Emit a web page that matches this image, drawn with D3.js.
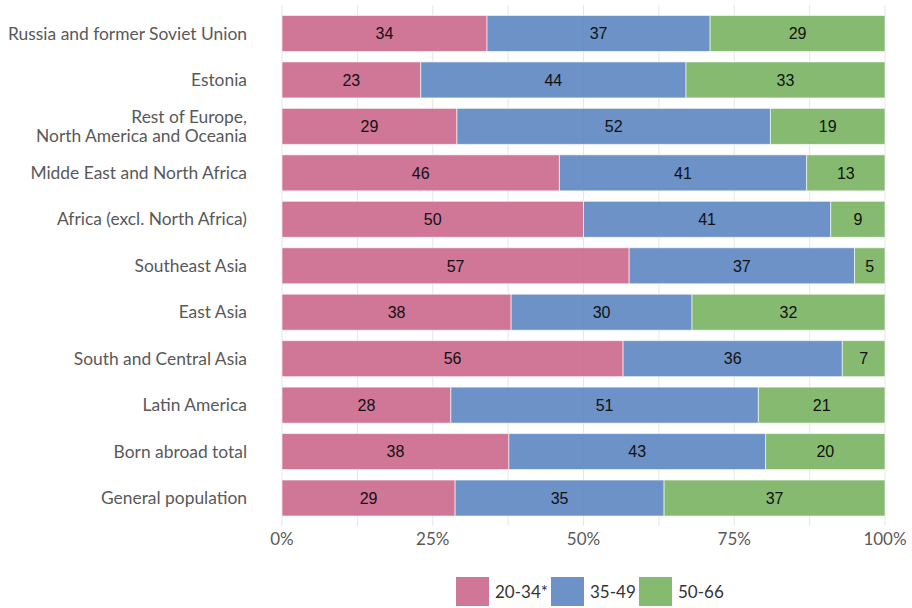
<!DOCTYPE html>
<html>
<head>
<meta charset="utf-8">
<script src="https://cdn.jsdelivr.net/npm/d3@7"></script>
<style>
  html, body { margin: 0; padding: 0; background: #fff; }
  svg { display: block; }
</style>
</head>
<body>
<svg id="chart" width="912" height="608"></svg>
<script>
// Age structure by region of birth (values in percent)
const categories = [
  "Russia and former Soviet Union",
  "Estonia",
  "Rest of Europe,\nNorth America and Oceania",
  "Midde East and North Africa",
  "Africa (excl. North Africa)",
  "Southeast Asia",
  "East Asia",
  "South and Central Asia",
  "Latin America",
  "Born abroad total",
  "General population"
];
const seriesNames = ["20-34*", "35-49", "50-66"];
const age20_34 = [34, 23, 29, 46, 50, 57, 38, 56, 28, 38, 29];
const age35_49 = [37, 44, 52, 41, 41, 37, 30, 36, 51, 43, 35];
const age50_66 = [29, 33, 19, 13, 9, 5, 32, 7, 21, 20, 37];
const seriesColors = ["#cc6a8e", "#5f89c2", "#7bb464"];
const tickValues = [0, 0.25, 0.5, 0.75, 1];
const gridValues = [0, 0.125, 0.25, 0.375, 0.5, 0.625, 0.75, 0.875, 1];

const rows = categories.map((c, i) => ({
  category: c,
  "20-34*": age20_34[i],
  "35-49": age35_49[i],
  "50-66": age50_66[i]
}));

const svg = d3.select("#chart");
const W = 912, H = 608;
const left = 282, right = 885;
const labelFont = "Lato, 'Source Sans Pro', sans-serif";

const x = d3.scaleLinear().domain([0, 1]).range([left, right]);
const y = d3.scaleBand().domain(categories).range([6, 525.5]).paddingInner(0.225).paddingOuter(0.204);
const color = d3.scaleOrdinal().domain(seriesNames).range(seriesColors);

const stacked = d3.stack().keys(seriesNames).offset(d3.stackOffsetExpand)(rows);

// gridlines
svg.append("g")
  .selectAll("line")
  .data(gridValues)
  .join("line")
  .attr("x1", d => x(d)).attr("x2", d => x(d))
  .attr("y1", 5).attr("y2", 526)
  .attr("stroke", "#e6e6e6")
  .attr("stroke-width", 1);

// bars
const layers = svg.append("g")
  .selectAll("g")
  .data(stacked)
  .join("g")
  .attr("fill", d => color(d.key));

layers.selectAll("rect")
  .data(d => d)
  .join("rect")
  .attr("x", d => x(d[0]))
  .attr("y", d => y(d.data.category))
  .attr("width", d => x(d[1]) - x(d[0]))
  .attr("height", y.bandwidth())
  .attr("fill-opacity", 0.92)
  .attr("stroke", "#ffffff")
  .attr("stroke-opacity", 0.6)
  .attr("stroke-width", 1);

// value labels inside bars
stacked.forEach(layer => {
  svg.append("g")
    .selectAll("text")
    .data(layer)
    .join("text")
    .attr("x", d => (x(d[0]) + x(d[1])) / 2)
    .attr("y", d => y(d.data.category) + y.bandwidth() / 2)
    .attr("dy", "0.36em")
    .attr("text-anchor", "middle")
    .attr("font-family", "'Liberation Sans', Arial, sans-serif")
    .attr("font-size", 16)
    .attr("fill", "#111111")
    .text(d => d.data[layer.key]);
});

// category labels
const catG = svg.append("g");
categories.forEach(c => {
  const lines = c.split("\n");
  const cy = y(c) + y.bandwidth() / 2;
  const t = catG.append("text")
    .attr("text-anchor", "end")
    .attr("font-family", labelFont)
    .attr("font-size", 17.4)
    .attr("fill", "#595959");
  lines.forEach((ln, k) => {
    t.append("tspan")
      .attr("x", 247)
      .attr("y", cy + (k - (lines.length - 1) / 2) * 19)
      .attr("dy", "0.35em")
      .text(ln);
  });
});

// x axis tick labels
svg.append("g")
  .selectAll("text")
  .data(tickValues)
  .join("text")
  .attr("x", d => x(d))
  .attr("y", 539)
  .attr("dy", "0.35em")
  .attr("text-anchor", "middle")
  .attr("font-family", labelFont)
  .attr("font-size", 17)
  .attr("fill", "#595959")
  .text(d3.format(".0%"));

// legend
const legendX = [456, 551, 639];
const legend = svg.append("g");
seriesNames.forEach((s, i) => {
  legend.append("rect")
    .attr("x", legendX[i]).attr("y", 577)
    .attr("width", 33).attr("height", 29)
    .attr("fill", color(s))
    .attr("fill-opacity", 0.92);
  legend.append("text")
    .attr("x", legendX[i] + 39).attr("y", 592)
    .attr("dy", "0.35em")
    .attr("font-family", labelFont)
    .attr("font-size", 17)
    .attr("fill", "#333333")
    .text(s);
});
</script>
</body>
</html>
